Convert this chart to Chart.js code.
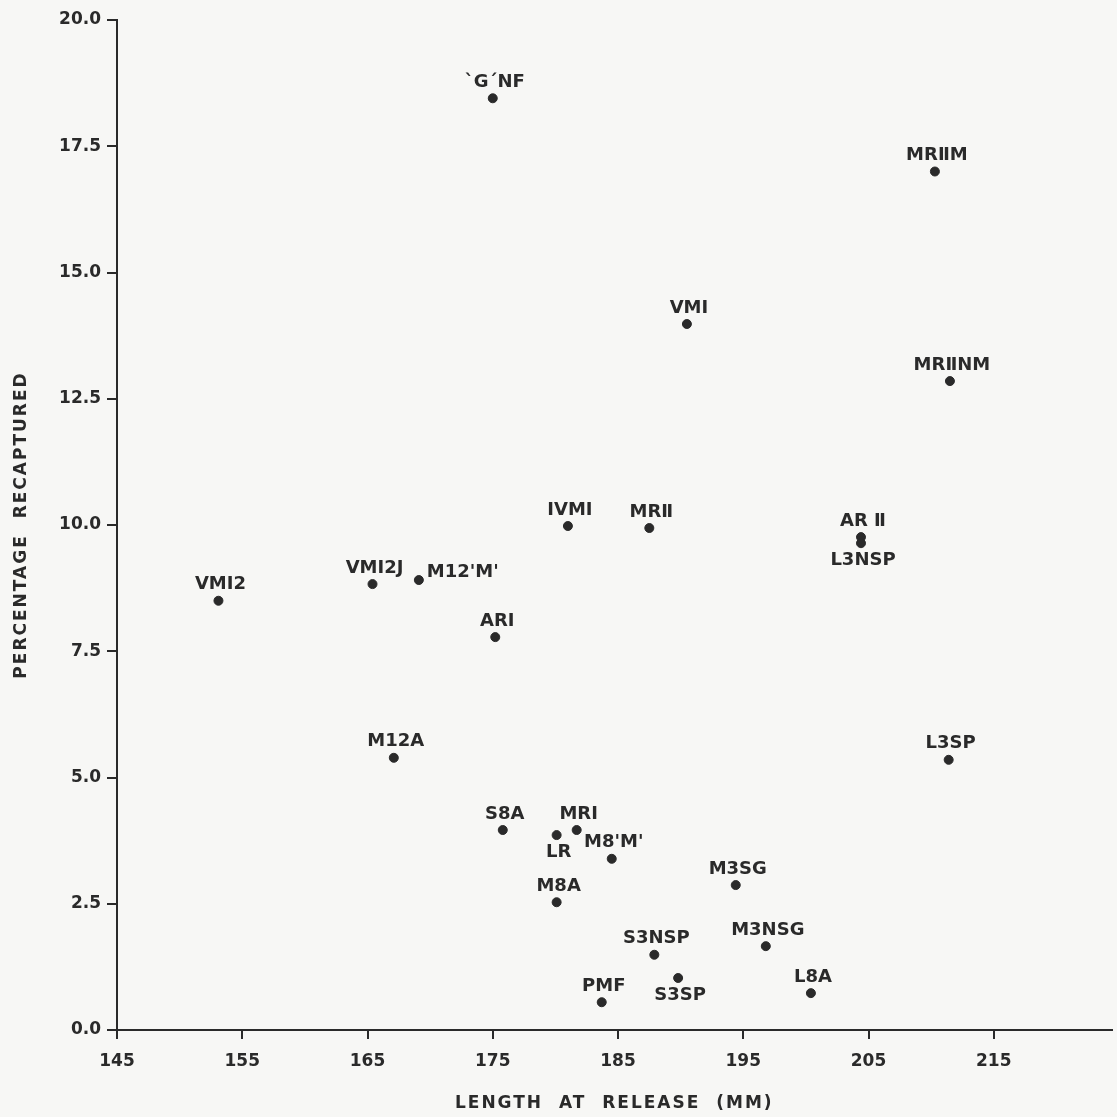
<!DOCTYPE html>
<html>
<head>
  <meta charset="utf-8">
  <title>Percentage Recaptured vs Length at Release</title>
  <style>
    html, body { margin: 0; padding: 0; background: #f7f7f5; }
    #wrap { width: 1117px; height: 1117px; }
  </style>
</head>
<body>
  <div id="wrap"><canvas id="chart" width="1117" height="1117"></canvas></div>
  <script src="https://cdn.jsdelivr.net/npm/chart.js"></script>
  <script>
    // groups, length at release (mm) and percentage recaptured
    const groups = ["`G´NF", "MRⅡM", "VMⅠ", "MRⅡNM", "IVMⅠ", "MRⅡ", "AR Ⅱ", "L3NSP",
      "VMⅠ2", "VMⅠ2J", "M12'M'", "ARⅠ", "M12A", "L3SP", "S8A", "LR", "MRⅠ", "M8'M'",
      "M8A", "M3SG", "S3NSP", "M3NSG", "S3SP", "PMF", "L8A"];
    const lengths = [175.0, 210.3, 190.5, 211.5, 181.0, 187.5, 204.4, 204.4,
      153.1, 165.4, 169.1, 175.2, 167.1, 211.4, 175.8, 180.1, 181.7, 184.5,
      180.1, 194.4, 187.9, 196.8, 189.8, 183.7, 200.4];
    const percents = [18.45, 17.0, 13.98, 12.85, 9.98, 9.94, 9.76, 9.64,
      8.5, 8.83, 8.91, 7.78, 5.39, 5.35, 3.96, 3.86, 3.96, 3.39,
      2.53, 2.87, 1.49, 1.66, 1.03, 0.55, 0.73];

    const xTicks = [145, 155, 165, 175, 185, 195, 205, 215];
    const xTitle = 'LENGTH  AT  RELEASE  (MM)';
    const yTitle = 'PERCENTAGE  RECAPTURED';

    const ink = '#2a2a2a';
    const fontFamily = "'DejaVu Sans', sans-serif";

    const points = lengths.map((x, i) => ({ x: x, y: percents[i], name: groups[i] }));

    // labels that are not placed straight above their point
    const placement = {
      'LR': 'below', 'L3NSP': 'below', 'S3SP': 'below', "M12'M'": 'right'
    };

    const labelPlugin = {
      id: 'pointLabels',
      afterDatasetsDraw(chart) {
        const ctx = chart.ctx;
        const meta = chart.getDatasetMeta(0);
        ctx.save();
        ctx.fillStyle = ink;
        ctx.font = 'bold 18px ' + fontFamily;
        ctx.textBaseline = 'middle';
        meta.data.forEach((el, i) => {
          const name = points[i].name;
          const where = placement[name] || 'above';
          if (where === 'right') {
            ctx.textAlign = 'left';
            ctx.fillText(name, el.x + 8, el.y - 8);
          } else {
            ctx.textAlign = 'center';
            ctx.fillText(name, el.x + 2, where === 'below' ? el.y + 17 : el.y - 16);
          }
        });
        ctx.restore();
      }
    };

    const titlePlugin = {
      id: 'axisTitles',
      afterDraw(chart) {
        const ctx = chart.ctx;
        const area = chart.chartArea;
        ctx.save();
        ctx.fillStyle = ink;
        ctx.font = 'bold 17px ' + fontFamily;
        ctx.letterSpacing = '2px';
        ctx.textAlign = 'center';
        ctx.textBaseline = 'middle';
        ctx.fillText(xTitle, (area.left + area.right) / 2, 1104);
        ctx.translate(22, (area.top + area.bottom) / 2);
        ctx.rotate(-Math.PI / 2);
        ctx.fillText(yTitle, 0, 0);
        ctx.restore();
      }
    };

    new Chart(document.getElementById('chart').getContext('2d'), {
      type: 'scatter',
      data: {
        datasets: [{
          label: 'groups',
          data: points,
          backgroundColor: ink,
          borderColor: ink,
          pointRadius: 4.5,
          pointHoverRadius: 4.5
        }]
      },
      options: {
        responsive: false,
        animation: false,
        layout: { padding: { top: 20, right: 0, left: 0, bottom: 0 } },
        plugins: { legend: { display: false }, tooltip: { enabled: false } },
        scales: {
          x: {
            type: 'linear',
            min: 145,
            max: 224.4,
            afterBuildTicks(scale) {
              scale.ticks = xTicks.map(v => ({ value: v }));
            },
            afterFit(scale) { scale.height = 87; },
            grid: { drawOnChartArea: false, drawTicks: true, tickLength: 9, color: ink, lineWidth: 2 },
            border: { display: true, color: ink, width: 2 },
            ticks: {
              color: ink,
              font: { family: fontFamily, size: 17, weight: 'bold' },
              padding: 12,
              maxRotation: 0
            }
          },
          y: {
            min: 0,
            max: 20,
            ticks: {
              stepSize: 2.5,
              color: ink,
              font: { family: fontFamily, size: 17, weight: 'bold' },
              padding: 6,
              callback: v => v.toFixed(1)
            },
            afterFit(scale) { scale.width = 117; },
            grid: { drawOnChartArea: false, drawTicks: true, tickLength: 10, color: ink, lineWidth: 2 },
            border: { display: true, color: ink, width: 2 }
          }
        }
      },
      plugins: [labelPlugin, titlePlugin]
    });
  </script>
</body>
</html>
